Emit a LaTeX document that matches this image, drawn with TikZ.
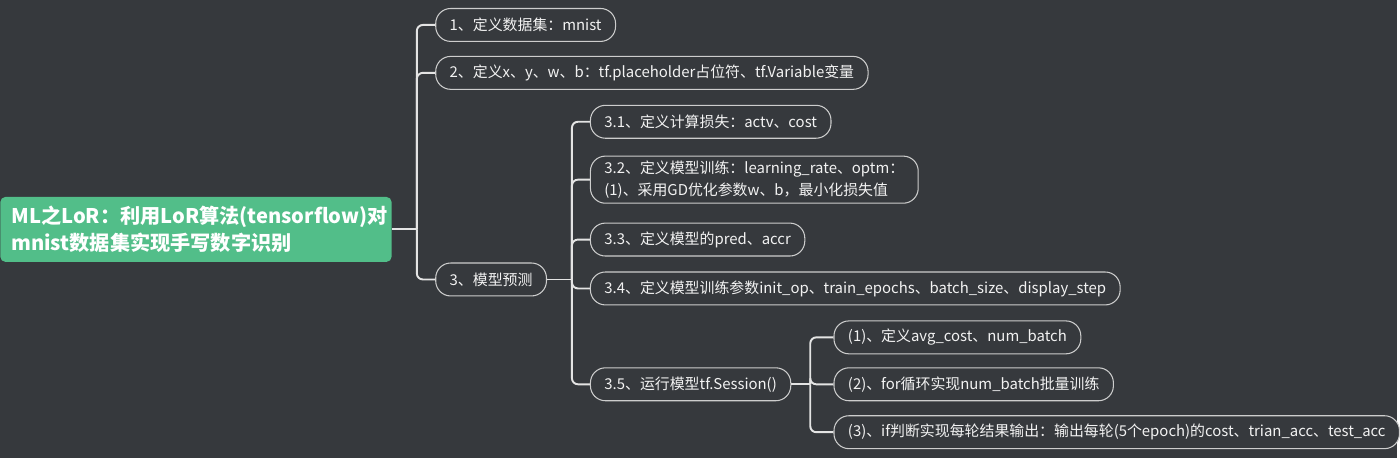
\documentclass[tikz,border=0pt]{standalone}
\usepackage{fontspec}
\setmainfont{Noto Sans CJK SC}
\usetikzlibrary{positioning}
\definecolor{bgdark}{RGB}{54,57,61}
\definecolor{rootgreen}{RGB}{82,190,137}
\definecolor{linegray}{RGB}{228,228,228}
\definecolor{edgegray}{RGB}{205,205,205}
\definecolor{textwhite}{RGB}{242,242,242}

\begin{document}
\begin{tikzpicture}[
  x=0.02cm, y=-0.02cm,
  rootbox/.style={rectangle, fill=rootgreen, rounded corners=0.1cm, text=white,
             minimum width=7.8cm, minimum height=1.3cm, text width=7.4cm,
             align=left, inner xsep=0.22cm, font=\bfseries\fontsize{11.5}{15.3}\selectfont},
  topicbox/.style={rectangle, draw=edgegray, line width=0.6pt, fill=bgdark,
             text=textwhite, rounded corners=0.3cm, minimum height=0.66cm,
             inner xsep=0.28cm, inner ysep=3pt, align=left, anchor=west,
             font=\fontsize{8.5}{12}\selectfont},
  link/.style={draw=linegray, line width=1.1pt, rounded corners=0.12cm}
]
% background and page size
\fill[bgdark] (0,0) rectangle (1400,459);

% central topic
\node[rootbox, anchor=north west] (root) at (0,197) {%
  ML之LoR：利用LoR算法(tensorflow)对\\
  mnist数据集实现手写数字识别};

% first level
\node[topicbox] (n1) at (436,25) {1、定义数据集：mnist};
\node[topicbox] (n2) at (436,73) {2、定义x、y、w、b：tf.placeholder占位符、tf.Variable变量};
\node[topicbox] (n3) at (436,280) {3、模型预测};

% second level
\node[topicbox] (n31) at (591,122) {3.1、定义计算损失：actv、cost};
\node[topicbox] (n32) at (591,180) {3.2、定义模型训练：learning\_rate、optm：\\(1)、采用GD优化参数w、b，最小化损失值};
\node[topicbox] (n33) at (591,240) {3.3、定义模型的pred、accr};
\node[topicbox] (n34) at (591,289) {3.4、定义模型训练参数init\_op、train\_epochs、batch\_size、display\_step};
\node[topicbox] (n35) at (591,385) {3.5、运行模型tf.Session()};

% third level
\node[topicbox] (s1) at (835,338) {(1)、定义avg\_cost、num\_batch};
\node[topicbox] (s2) at (835,385) {(2)、for循环实现num\_batch批量训练};
\node[topicbox] (s3) at (835,433) {(3)、if判断实现每轮结果输出：输出每轮(5个epoch)的cost、trian\_acc、test\_acc};

% connectors
\coordinate (ta) at ([xshift=0.5cm]root.east);
\draw[link] (root.east) -- (ta);
\foreach \k in {n1,n2,n3}
  \draw[link] (ta) |- (\k.west);

\coordinate (tb) at ([xshift=0.5cm]n3.east);
\draw[link] (n3.east) -- (tb);
\foreach \k in {n31,n32,n33,n34,n35}
  \draw[link] (tb) |- (\k.west);

\coordinate (tc) at ([xshift=0.38cm]n35.east);
\draw[link] (n35.east) -- (tc);
\foreach \k in {s1,s2,s3}
  \draw[link] (tc) |- (\k.west);

\end{tikzpicture}
\end{document}
